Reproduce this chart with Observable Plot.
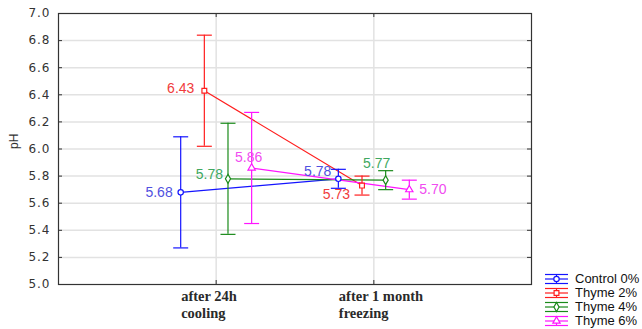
<!DOCTYPE html>
<html>
<head>
<meta charset="utf-8">
<script src="https://cdn.jsdelivr.net/npm/d3@7"></script>
<script src="https://cdn.jsdelivr.net/npm/@observablehq/plot@0.6"></script>
<style>
  body { margin: 0; background: #fff; }
  #chart { position: relative; width: 642px; height: 329px; }
  #chart svg g[aria-label="y-axis tick label"] text { letter-spacing: 1px; }
  .legend { position: absolute; left: 545px; top: 272px; font: 13px "Liberation Sans", Arial, sans-serif; color: #111; }
  .legend .row { height: 14px; line-height: 14px; display: flex; align-items: center; white-space: nowrap; }
  .legend svg { display: block; margin-right: 7px; }
</style>
</head>
<body>
<div id="chart"></div>
<script>
// Storage periods (x categories)
const periods = ["after 24h\ncooling", "after 1 month\nfreezing"];
// Treatments
const seriesNames = ["Control 0%", "Thyme 2%", "Thyme 4%", "Thyme 6%"];
// Mean pH per treatment, for each period
const meansAfter24h = [5.68, 6.43, 5.78, 5.86];
const meansAfter1Month = [5.78, 5.73, 5.77, 5.70];
// Half-width of the error bars
const errAfter24h = [0.41, 0.41, 0.41, 0.41];
const errAfter1Month = [0.07, 0.07, 0.07, 0.07];
// y axis ticks
const yTicks = [5.0, 5.2, 5.4, 5.6, 5.8, 6.0, 6.2, 6.4, 6.6, 6.8, 7.0];

const seriesColors = ["#1414ff", "#ff1e1e", "#1a8a1a", "#ff14ff"];
const labelColors = ["#5050e0", "#f03c3c", "#40a860", "#f04cf0"];
const seriesSymbols = ["circle", "square", "diamond", "triangle"];
const markerRadius = 2.7;

// Dodge the treatments around each period position
const dodge = 0.15;
const meansByPeriod = [meansAfter24h, meansAfter1Month];
const errByPeriod = [errAfter24h, errAfter1Month];
const rows = [];
seriesNames.forEach((s, i) => {
  periods.forEach((p, j) => {
    const m = meansByPeriod[j][i], e = errByPeriod[j][i];
    rows.push({series: s, si: i, pj: j, x: j + 1 + (i - 1.5) * dodge, mean: m, lo: m - e, hi: m + e});
  });
});

// Where each value label sits relative to its point
const labelPlacement = {
  "0|0": {textAnchor: "end", dx: -8, dy: 0},
  "1|0": {textAnchor: "end", dx: -10, dy: -2},
  "2|0": {textAnchor: "end", dx: -5, dy: -4},
  "3|0": {textAnchor: "middle", dx: -3, dy: -10},
  "0|1": {textAnchor: "end", dx: -7, dy: -7},
  "1|1": {textAnchor: "end", dx: -12, dy: 9},
  "2|1": {textAnchor: "middle", dx: -9, dy: -17},
  "3|1": {textAnchor: "start", dx: 10, dy: 0}
};

// Horizontal cap drawn as a dot symbol
const capSymbol = {
  draw(context, size) {
    const r = Math.sqrt(size / Math.PI);
    context.moveTo(-r, 0);
    context.lineTo(r, 0);
  }
};

const W = 642, H = 329, mL = 58, mR = 111, mT = 13, mB = 45;
const plotW = W - mL - mR, plotH = H - mT - mB;
const tickLen = 4;
const gridColor = "#e2e2e2";

const labelMarks = rows.map(d => {
  const pl = labelPlacement[`${d.si}|${d.pj}`];
  return Plot.text([d], {
    x: "x", y: "mean", text: r => r.mean.toFixed(2),
    fill: labelColors[d.si], fontSize: 14, lineAnchor: "middle",
    textAnchor: pl.textAnchor, dx: pl.dx, dy: pl.dy
  });
});

const chart = Plot.plot({
  width: W, height: H,
  marginLeft: mL, marginRight: mR, marginTop: mT, marginBottom: mB,
  style: {fontFamily: "'Liberation Sans', Arial, sans-serif", background: "white", overflow: "visible"},
  x: {domain: [0, 3]},
  y: {domain: [5, 7]},
  color: {domain: seriesNames, range: seriesColors},
  symbol: {domain: seriesNames, range: seriesSymbols},
  marks: [
    // grid
    Plot.ruleY(yTicks.slice(1, -1), {stroke: gridColor, strokeWidth: 1.5}),
    Plot.ruleX([1, 2], {stroke: gridColor, strokeWidth: 1.5}),
    // inward ticks on all four sides
    Plot.ruleY(yTicks, {stroke: "#333", insetRight: plotW - tickLen}),
    Plot.ruleY(yTicks, {stroke: "#333", insetLeft: plotW - tickLen}),
    Plot.ruleX([1, 2], {stroke: "#333", insetTop: plotH - tickLen}),
    Plot.ruleX([1, 2], {stroke: "#333", insetBottom: plotH - tickLen}),
    Plot.frame({stroke: "#333", strokeWidth: 1.2}),
    // axes
    Plot.axisY({ticks: yTicks, tickSize: 0, tickPadding: 8, tickFormat: d3.format(".1f"),
      fontSize: 12, fill: "#333", fontFamily: "'DejaVu Sans', sans-serif", label: null}),
    Plot.axisX({ticks: [1, 2], tickSize: 0, tickPadding: 5, tickFormat: d => periods[d - 1],
      textAnchor: "start", dx: -35, lineAnchor: "top", lineHeight: 1.14,
      fontFamily: "'Liberation Serif', 'Times New Roman', serif", fontWeight: "bold",
      fontSize: 14.5, fill: "#2a2a2a", label: null}),
    Plot.text(["pH"], {frameAnchor: "left", dx: -44, rotate: -90, fontSize: 12, fill: "#333"}),
    // series lines
    Plot.line(rows, {x: "x", y: "mean", z: "series", stroke: "series", strokeWidth: 1.2}),
    // error bars with caps
    Plot.ruleX(rows, {x: "x", y1: "lo", y2: "hi", stroke: "series", strokeWidth: 1.2}),
    Plot.dot(rows, {x: "x", y: "lo", symbol: capSymbol, r: 7.5, stroke: "series", fill: "none", strokeWidth: 1.2}),
    Plot.dot(rows, {x: "x", y: "hi", symbol: capSymbol, r: 7.5, stroke: "series", fill: "none", strokeWidth: 1.2}),
    // mean markers
    Plot.dot(rows, {x: "x", y: "mean", symbol: "series", stroke: "series", fill: "white", r: markerRadius, strokeWidth: 1.2}),
    ...labelMarks
  ]
});

const host = document.getElementById("chart");
host.appendChild(chart);

// Legend
const legend = d3.select(host).append("div").attr("class", "legend");
seriesNames.forEach((s, i) => {
  const row = legend.append("div").attr("class", "row");
  const sw = row.append("svg").attr("width", 23).attr("height", 12);
  const c = seriesColors[i];
  const g = sw.append("g").attr("stroke", c).attr("stroke-width", 1.2).attr("fill", "none");
  [1.5, 6, 10.5].forEach(y => g.append("line").attr("x1", 0).attr("x2", 23).attr("y1", y).attr("y2", y));
  g.append("line").attr("x1", 11.5).attr("x2", 11.5).attr("y1", 1.5).attr("y2", 10.5);
  const symType = [d3.symbolCircle, d3.symbolSquare, d3.symbolDiamond, d3.symbolTriangle][i];
  g.append("path").attr("transform", "translate(11.5,6)").attr("fill", "white")
    .attr("d", d3.symbol(symType, markerRadius * markerRadius * Math.PI)());
  row.append("span").text(s);
});
</script>
</body>
</html>
